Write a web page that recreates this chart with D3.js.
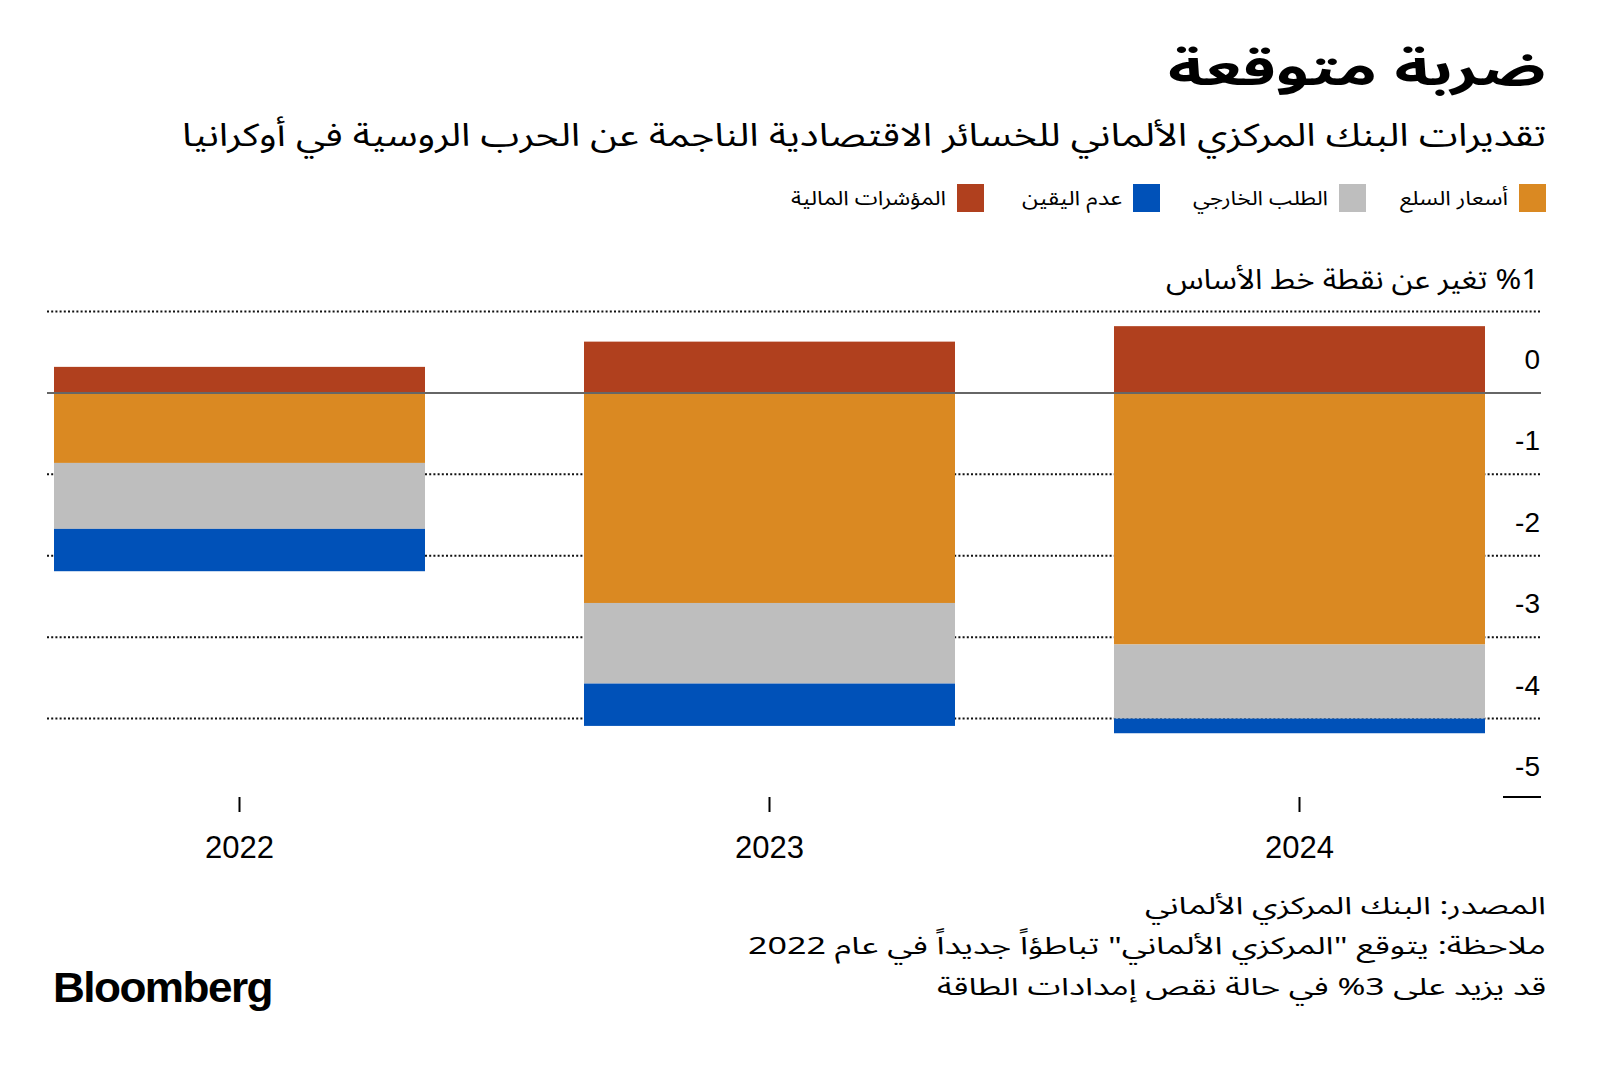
<!DOCTYPE html>
<html><head><meta charset="utf-8">
<script src="https://cdn.jsdelivr.net/npm/d3@7"></script>
<style>
html,body{margin:0;padding:0;background:#fff;}
svg{display:block;}
.ar{font-family:"Noto Sans Arabic","DejaVu Sans",sans-serif;}
.lat{font-family:"Liberation Sans",Arial,Helvetica,sans-serif;}
</style></head>
<body>
<script>
// ---- data ----
const years = ["2022", "2023", "2024"];
const commodityPrices = [-0.86, -2.58, -3.09];   // أسعار السلع
const foreignDemand   = [-0.81, -0.99, -0.91];   // الطلب الخارجي
const uncertainty     = [-0.52, -0.52, -0.18];   // عدم اليقين
const financial       = [0.32, 0.63, 0.82];      // المؤشرات المالية
const seriesKeys   = ["commodity", "demand", "uncertainty", "financial"];
const seriesLabels = ["أسعار السلع", "الطلب الخارجي", "عدم اليقين", "المؤشرات المالية"];
const yTicks = [0, -1, -2, -3, -4, -5];
const gridValues = [1, -1, -2, -3, -4];

const colors = {commodity:"#DA8922", demand:"#BEBEBE", uncertainty:"#0051B8", financial:"#B0401E"};

const W = 1600, H = 1065;
const svg = d3.select("body").append("svg").attr("width", W).attr("height", H);

const rows = years.map((y, i) => ({
  year: y,
  commodity: commodityPrices[i],
  demand: foreignDemand[i],
  uncertainty: uncertainty[i],
  financial: financial[i]
}));

const x = d3.scaleBand().domain(years).range([-25.5, 1564.5]).paddingInner(0.3).paddingOuter(0.15);
const y = d3.scaleLinear().domain([1, -5]).range([311.5, 800]);

function fit(sel, target) {
  sel.each(function () {
    const w = this.getComputedTextLength();
    if (Math.abs(w - target) / target > 0.02) {
      d3.select(this).attr("textLength", target).attr("lengthAdjust", "spacingAndGlyphs");
    }
  });
}

// ---- title ----
fit(svg.append("text").attr("class", "ar").attr("direction", "rtl").attr("text-anchor", "start")
  .attr("x", 1546).attr("y", 85).attr("font-size", 46).attr("font-weight", "bold").attr("fill", "#000")
  .text("ضربة متوقعة"), 378);
fit(svg.append("text").attr("class", "ar").attr("direction", "rtl").attr("text-anchor", "start")
  .attr("x", 1546).attr("y", 146).attr("font-size", 32).attr("fill", "#000")
  .text("تقديرات البنك المركزي الألماني للخسائر الاقتصادية الناجمة عن الحرب الروسية في أوكرانيا"), 1364);

// ---- legend ----
const legendSwatchX = [1519, 1339, 1133, 957];
const legendTextW = [108, 135, 100, 155];
const lg = svg.append("g");
seriesKeys.forEach((k, i) => {
  lg.append("rect").attr("x", legendSwatchX[i]).attr("y", 184).attr("width", 27).attr("height", 28).attr("fill", colors[k]);
  fit(lg.append("text").attr("class", "ar").attr("direction", "rtl").attr("text-anchor", "start")
    .attr("x", legendSwatchX[i] - 11).attr("y", 205).attr("font-size", 20).attr("fill", "#000")
    .text(seriesLabels[i]), legendTextW[i]);
});

// ---- axis title (includes the "1" top tick) ----
fit(svg.append("text").attr("class", "ar").attr("direction", "rtl").attr("text-anchor", "start")
  .attr("x", 1539).attr("y", 289).attr("font-size", 28).attr("fill", "#000")
  .text("%1 تغير عن نقطة خط الأساس"), 373);

// ---- gridlines ----
const grid = svg.append("g");
grid.selectAll("line.g").data(gridValues).join("line")
  .attr("x1", 47).attr("x2", 1541)
  .attr("y1", d => y(d)).attr("y2", d => y(d))
  .attr("stroke", "#111").attr("stroke-width", 2).attr("stroke-dasharray", "2,2.2");

// ---- bars ----
const stack = d3.stack().keys(seriesKeys).offset(d3.stackOffsetDiverging);
const stacked = stack(rows);
svg.append("g").selectAll("g").data(stacked).join("g")
  .attr("fill", d => colors[d.key])
  .selectAll("rect").data(d => d).join("rect")
  .attr("x", d => x(d.data.year))
  .attr("width", x.bandwidth())
  .attr("y", d => y(Math.max(d[0], d[1])))
  .attr("height", d => Math.abs(y(d[0]) - y(d[1])));

// zero line
svg.append("line").attr("x1", 47).attr("x2", 1541).attr("y1", y(0)).attr("y2", y(0))
  .attr("stroke", "#666").attr("stroke-width", 2);
// bottom short line at -5
svg.append("line").attr("x1", 1503).attr("x2", 1541).attr("y1", y(-5) - 3).attr("y2", y(-5) - 3)
  .attr("stroke", "#000").attr("stroke-width", 2);

// ---- y tick labels (above their lines) ----
svg.append("g").selectAll("text").data(yTicks).join("text")
  .attr("class", "lat").attr("x", 1540).attr("y", d => y(d) - 24)
  .attr("text-anchor", "end").attr("font-size", 28).attr("fill", "#000")
  .text(d => String(d));

// ---- x axis ----
const xa = svg.append("g");
xa.selectAll("line").data(years).join("line")
  .attr("x1", d => x(d) + x.bandwidth() / 2).attr("x2", d => x(d) + x.bandwidth() / 2)
  .attr("y1", 797).attr("y2", 812).attr("stroke", "#000").attr("stroke-width", 2);
xa.selectAll("text").data(years).join("text")
  .attr("class", "lat").attr("x", d => x(d) + x.bandwidth() / 2).attr("y", 858)
  .attr("text-anchor", "middle").attr("font-size", 31).attr("fill", "#000")
  .text(d => d);

// ---- footer ----
const footLines = [
  "المصدر: البنك المركزي الألماني",
  "ملاحظة: يتوقع \"المركزي الألماني\" تباطؤاً جديداً في عام 2022",
  "قد يزيد على 3% في حالة نقص إمدادات الطاقة"
];
const footW = [401, 798, 609];
const footY = [914, 954, 995];
footLines.forEach((t, i) => {
  fit(svg.append("text").attr("class", "ar").attr("direction", "rtl").attr("text-anchor", "start")
    .attr("x", 1546).attr("y", footY[i]).attr("font-size", 24).attr("fill", "#000").text(t), footW[i]);
});

// ---- Bloomberg logo ----
fit(svg.append("text").attr("class", "lat").attr("x", 53).attr("y", 1002)
  .attr("font-size", 43).attr("font-weight", "bold").attr("letter-spacing", -1.5).attr("fill", "#000")
  .text("Bloomberg"), 219);
</script>
</body></html>
